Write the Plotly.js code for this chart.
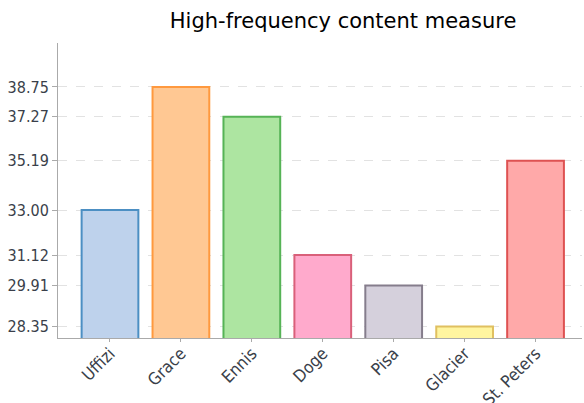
<!DOCTYPE html>
<html>
<head>
<meta charset="utf-8">
<script src="https://cdn.plot.ly/plotly-3.0.1.min.js"></script>
<style>html,body{margin:0;padding:0;background:#fff}#chart{width:584px;height:403px}</style>
</head>
<body>
<div id="chart"></div>
<script>
const categories = ["Uffizi", "Grace", "Ennis", "Doge", "Pisa", "Glacier", "St. Peters"];
const values = [33.00, 38.75, 37.27, 31.12, 29.91, 28.35, 35.19];
const tickLabels = ["28.35", "29.91", "31.12", "33.00", "35.19", "37.27", "38.75"];
const tickValues = [28.35, 29.91, 31.12, 33.00, 35.19, 37.27, 38.75];
const fillColors = ["#bed2ec", "#ffc893", "#ade5a1", "#ffaacc", "#d5d0dc", "#fff5a0", "#ffa9a9"];
const lineColors = ["#4c8fc3", "#ff993e", "#56b356", "#d9607a", "#857d8c", "#e0c060", "#de5252"];

const trace = {
  type: "bar",
  x: categories,
  y: values,
  width: 0.8,
  marker: { color: fillColors, line: { color: lineColors, width: 2 } },
  hoverinfo: "x+y"
};

const layout = {
  width: 584, height: 403,
  margin: { l: 58, r: 2, t: 43, b: 65, pad: 0 },
  paper_bgcolor: "#fff", plot_bgcolor: "#fff",
  font: { family: "DejaVu Sans Condensed, DejaVu Sans, sans-serif", size: 16, color: "#3a3f4a" },
  title: { text: "High-frequency content measure", font: { size: 21, color: "#000", family: "DejaVu Sans, sans-serif" },
           x: 0.544, xanchor: "center", xref: "paper", y: 0.95, yanchor: "middle", yref: "container" },
  showlegend: false,
  xaxis: {
    type: "category",
    range: [-0.733, 6.655],
    tickangle: -45,
    tickfont: { size: 17 },
    ticklabelstandoff: -5,
    showline: true, linecolor: "#aaa", linewidth: 1,
    ticks: "outside", ticklen: 3, tickcolor: "#aaa",
    showgrid: false, zeroline: false
  },
  yaxis: {
    type: "log",
    range: [1.446, 1.6132],
    tickmode: "array", tickvals: tickValues, ticktext: tickLabels,
    tickfont: { size: 16 },
    showline: true, linecolor: "#aaa", linewidth: 1,
    ticks: "outside", ticklen: 5, tickcolor: "#aaa",
    showgrid: true, gridcolor: "#e2e2e2", griddash: "dash", gridwidth: 1,
    zeroline: false
  }
};

Plotly.newPlot("chart", [trace], layout, { displayModeBar: false, staticPlot: true });
</script>
</body>
</html>
